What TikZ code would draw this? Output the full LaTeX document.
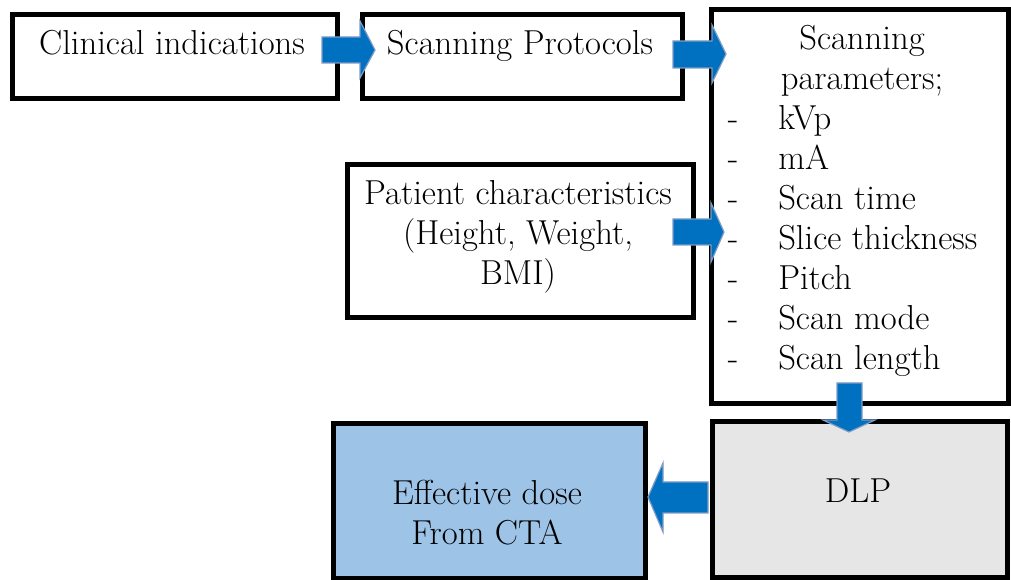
\documentclass[tikz,border=0pt]{standalone}
\begin{document}
\begin{tikzpicture}[x=0.75pt,y=-0.75pt,
  box/.style={draw=black,line width=3.4pt,inner sep=0pt,anchor=north west},
  txt/.style={inner sep=0pt,anchor=base,font=\rmfamily\fontsize{26}{30}\selectfont},
  itm/.style={inner sep=0pt,anchor=base west,font=\rmfamily\fontsize{26}{30}\selectfont},
  blockarrow/.style={fill=arrowblue,draw=arrowedge,line width=0.9pt,line join=miter}]
\definecolor{arrowblue}{HTML}{0070C0}
\definecolor{arrowedge}{HTML}{7F9CC6}
\definecolor{effblue}{HTML}{9DC3E6}
\definecolor{dlpgray}{HTML}{E6E6E6}
\useasboundingbox[fill=white] (0,0) rectangle (1011,580);
% boxes
\node[box,minimum width=243.75pt,minimum height=63pt] (clin) at (10,12) {};
\node[box,minimum width=240pt,minimum height=63pt] (prot) at (360,12) {};
\node[box,minimum width=222.75pt,minimum height=295.5pt] (par) at (709,7) {};
\node[box,minimum width=259.5pt,minimum height=114.75pt] (pat) at (345,162) {};
\node[box,fill=effblue,minimum width=234pt,minimum height=116.25pt] (eff) at (331,421) {};
\node[box,fill=dlpgray,minimum width=221.25pt,minimum height=117pt] (dlp) at (710,419) {};
% texts
\node[txt] (t1) at (172,55) {Clinical indications};
\node[txt] (t2) at (520,55) {Scanning Protocols};
\node[txt] (t3a) at (862,50) {Scanning};
\node[txt] (t3b) at (862,90) {parameters;};
\foreach \y/\s/\n in {130/kVp/a,170/mA/b,210/Scan time/c,250/Slice thickness/d,290/Pitch/e,330/Scan mode/f,370/Scan length/g}{
  \node[txt] (d\n) at (733,\y) {-};
  \node[itm] (i\n) at (778,\y) {\s};
}
\node[txt] (p1) at (518,205) {Patient characteristics};
\node[txt] (p2) at (518,245) {(Height, Weight,};
\node[txt] (p3) at (518,285) {BMI)};
\node[txt] (e1) at (487,505) {Effective dose};
\node[txt] (e2) at (487,545) {From CTA};
\node[txt] (dl) at (858,503) {DLP};
% block arrows
\draw[blockarrow] (322,37) -- (360,37) -- (360,21) -- (375,50) -- (360,78) -- (360,63) -- (322,63) -- cycle;
\draw[blockarrow] (673,41) -- (712,41) -- (712,25) -- (726,54) -- (712,83) -- (712,68) -- (673,68) -- cycle;
\draw[blockarrow] (673,219) -- (711,219) -- (711,203) -- (724,232) -- (711,262) -- (711,245) -- (673,245) -- cycle;
\draw[blockarrow] (837,383) -- (862,383) -- (862,420) -- (875,420) -- (849,432) -- (823,420) -- (837,420) -- cycle;
\draw[blockarrow] (708,482) -- (663,482) -- (663,463) -- (648,497) -- (663,532) -- (663,513) -- (708,513) -- cycle;
\end{tikzpicture}
\end{document}
